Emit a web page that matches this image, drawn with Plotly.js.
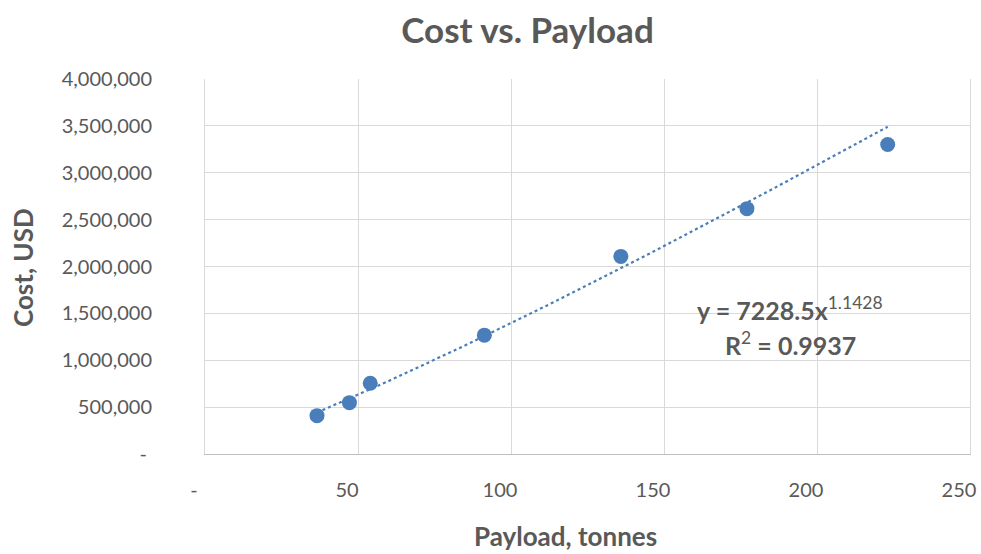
<!DOCTYPE html>
<html>
<head>
<meta charset="utf-8">
<script src="https://cdn.plot.ly/plotly-3.0.1.min.js"></script>
<style>html,body{margin:0;padding:0;background:#fff;}#chart{width:981px;height:554px;}</style>
</head>
<body>
<div id="chart"></div>
<script>
// Data
const payload = [36.6, 47.2, 54.0, 91.3, 135.9, 177.1, 223.1];
const cost = [409000, 548000, 755000, 1268000, 2108000, 2617000, 3301000];

// Power trendline as shown on the chart: y = 7228.5 x^1.1428, R² = 0.9937
const trendCoef = 7228.5;
const trendExp = 1.1428;
const trendR2 = 0.9937;

const xTickVals = [0, 50, 100, 150, 200, 250];
const xTickText = ["-", "50", "100", "150", "200", "250"];
const yTickVals = [0, 500000, 1000000, 1500000, 2000000, 2500000, 3000000, 3500000, 4000000];
const yTickText = ["-\u00a0", "500,000", "1,000,000", "1,500,000", "2,000,000", "2,500,000", "3,000,000", "3,500,000", "4,000,000"];

const xMin = Math.min(...payload), xMax = Math.max(...payload);
const trendX = [], trendY = [];
const nT = 80;
for (let i = 0; i <= nT; i++) {
  const x = xMin + (xMax - xMin) * i / nT;
  trendX.push(x);
  trendY.push(trendCoef * Math.pow(x, trendExp));
}

const blue = "#4a7ebb";
const grey = "#595959";
const font = "Lato, 'Open Sans', sans-serif";

const traces = [
  {x: trendX, y: trendY, type: "scatter", mode: "lines",
   line: {color: blue, width: 2.2, dash: "dot"}, hoverinfo: "skip", showlegend: false},
  {x: payload, y: cost, type: "scatter", mode: "markers",
   marker: {color: blue, size: 15}, showlegend: false}
];

const layout = {
  width: 981, height: 554,
  margin: {l: 205, r: 11, t: 79, b: 100},
  paper_bgcolor: "#fff", plot_bgcolor: "#fff",
  font: {family: font, color: grey, size: 20},
  title: {text: "<b>Cost vs. Payload</b>", font: {family: font, size: 35, color: grey},
          x: 527.5/981, xref: "container", xanchor: "center", y: 1 - 31/554, yref: "container", yanchor: "middle"},
  xaxis: {range: [0, 250], tickvals: xTickVals, ticktext: xTickText,
          showgrid: true, gridcolor: "#d9d9d9", gridwidth: 1, zeroline: false,
          showline: true, linecolor: "#bfbfbf", linewidth: 1.3, mirror: false,
          ticks: "", ticklabelstandoff: 18, ticklabelshift: -11,
          tickfont: {family: font, size: 20, color: grey}, fixedrange: true},
  yaxis: {range: [0, 4000000], tickvals: yTickVals, ticktext: yTickText,
          showgrid: true, gridcolor: "#d9d9d9", gridwidth: 1, zeroline: false,
          showline: true, linecolor: "#d9d9d9", linewidth: 1, mirror: true,
          ticks: "", ticklabelstandoff: 48,
          tickfont: {family: font, size: 20, color: grey}, fixedrange: true},
  annotations: [
    {text: "<b>Payload, tonnes</b>", xref: "paper", yref: "paper", x: (565-205)/765, y: -(536-454)/375,
     xanchor: "center", yanchor: "middle", showarrow: false, font: {family: font, size: 26, color: grey}},
    {text: "<b>Cost, USD</b>", xref: "paper", yref: "paper", x: (23-205)/765, y: (454-268)/375,
     xanchor: "center", yanchor: "middle", textangle: -90, showarrow: false, font: {family: font, size: 26, color: grey}},
    {text: "<b>y = " + trendCoef + "x</b><sup>" + trendExp + "</sup>", xref: "paper", yref: "paper",
     x: (790-205)/765, y: (454-308)/375, xanchor: "center", yanchor: "middle", showarrow: false,
     font: {family: font, size: 25, color: grey}},
    {text: "<b>R</b><sup>2</sup><b> = " + trendR2 + "</b>", xref: "paper", yref: "paper",
     x: (790-205)/765, y: (454-343)/375, xanchor: "center", yanchor: "middle", showarrow: false,
     font: {family: font, size: 25, color: grey}}
  ]
};

Plotly.newPlot("chart", traces, layout, {displayModeBar: false, staticPlot: true});
</script>
</body>
</html>
